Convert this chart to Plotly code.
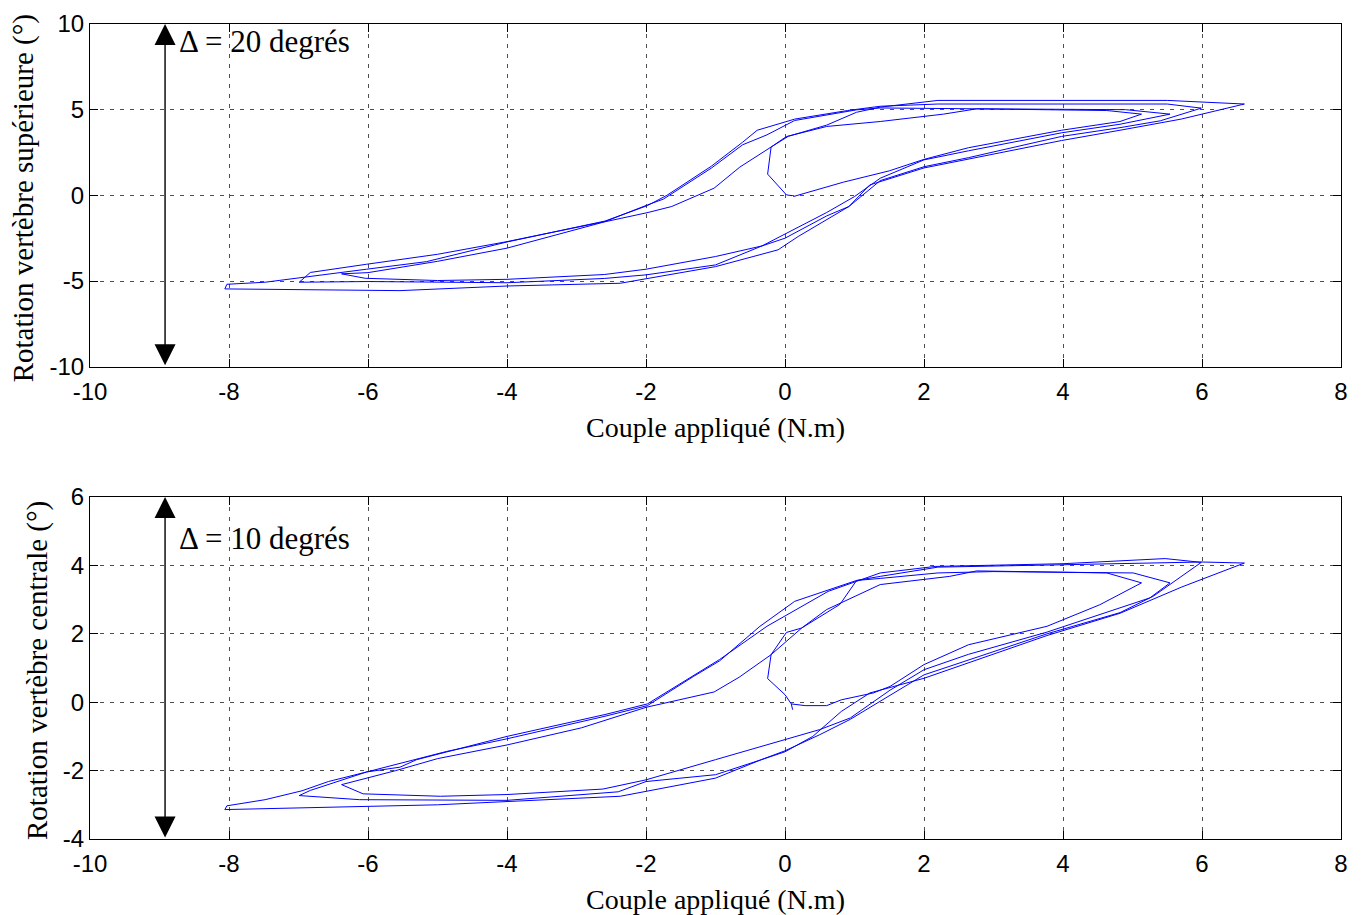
import plotly.graph_objects as go

# ---------------- data ----------------
top_couple = [
    0.12, 0.36, 0.60, 0.84, 1.50, 2.00, 2.64, 3.98, 4.82, 5.13,
    4.63, 2.76, 2.28, 1.37, 0.60, 0.02, -0.20, -0.65, -1.02, -1.63, -1.97, -2.60, -4.00, -5.00, -6.00, -6.38,
    -6.04, -5.00, -4.00, -2.60, -2.00, -1.00, -0.33, 0.19, 0.60, 1.00, 1.37, 2.00, 2.64, 3.98, 4.82, 5.54,
    4.90, 2.76, 1.37, 1.03, 0.14, -0.26, -0.61, -1.06, -1.75, -1.98, -2.59, -4.00, -5.00, -6.02, -6.83, -6.99,
    -6.00, -4.00, -2.60, -2.00, -1.00, -0.33, 0.00, 0.60, 0.92, 1.37, 2.00, 2.64, 3.98, 4.82, 5.40, 5.99,
    5.50, 2.20, 1.37, 0.90, 0.14, -0.40, -0.61, -1.06, -1.70, -1.98, -2.59, -4.00, -5.16, -6.02, -6.83, -7.48, -8.03, -8.06,
    -5.54, -4.00, -2.37, -1.00, -0.10, 0.19, 0.92, 1.22, 2.00, 3.98, 4.82, 5.70, 6.61,
    5.50, 2.20, 1.37, 1.03, 0.60, 0.05, -0.20, -0.25, 0.02, 0.10,
]
top_rotation = [
    -0.07, 0.22, 0.51, 0.77, 1.43, 2.10, 2.78, 3.80, 4.31, 4.74,
    4.95, 5.05, 4.74, 4.31, 4.02, 3.43, 2.82, 1.65, 0.42, -0.65, -1.00, -1.55, -3.08, -3.85, -4.51, -4.58,
    -4.84, -4.97, -4.90, -4.62, -4.31, -3.57, -2.95, -1.86, -1.00, -0.07, 1.00, 2.07, 2.60, 3.65, 4.15, 4.74,
    5.00, 5.05, 5.10, 4.99, 4.37, 3.53, 2.95, 1.59, -0.22, -0.56, -1.53, -2.70, -3.44, -4.02, -4.50, -5.07,
    -5.03, -5.10, -4.85, -4.64, -4.06, -2.95, -2.50, -1.20, -0.65, 0.86, 1.67, 2.20, 3.44, 3.95, 4.35, 5.09,
    5.33, 5.33, 5.20, 4.95, 4.45, 3.80, 3.10, 1.70, 0.00, -0.60, -1.50, -2.72, -3.87, -4.31, -4.74, -5.07, -5.19, -5.46,
    -5.56, -5.29, -5.13, -4.16, -3.18, -2.40, -0.65, 0.61, 1.60, 3.20, 3.80, 4.45, 5.33,
    5.54, 5.54, 5.15, 4.85, 4.10, 3.45, 2.82, 1.24, 0.03, -0.02,
]

bottom_couple = [
    0.09, 0.29, 0.60, 0.81, 1.27, 1.51, 2.00, 2.64, 3.77, 4.53, 5.13,
    4.63, 2.76, 2.37, 1.37, 0.60, 0.24, 0.02, -0.20, -0.66, -1.02, -1.63, -2.00, -2.93, -4.00, -5.00, -5.60, -6.38,
    -6.07, -4.96, -4.00, -2.62, -2.00, -1.00, 0.00, 0.50, 0.94, 1.51, 2.00, 2.64, 3.77, 4.82, 5.25, 5.54,
    5.01, 3.00, 2.20, 1.37, 1.03, 0.14, -0.36, -0.94, -1.32, -1.98, -2.59, -4.00, -4.87, -6.02, -6.83, -6.99,
    -6.12, -4.00, -2.40, -2.00, -1.00, -0.34, 0.00, 0.50, 0.94, 1.51, 2.00, 3.77, 4.82, 5.30, 5.99,
    5.47, 4.00, 2.16, 1.37, 0.62, -0.26, -0.94, -1.98, -2.59, -4.00, -5.30, -5.54, -6.02, -6.57, -6.95, -7.48, -8.03, -8.06,
    -5.00, -2.37, -1.00, -0.34, 0.00, 0.40, 0.81, 1.22, 2.00, 3.77, 4.82, 5.71, 6.61,
    6.00, 4.00, 2.20, 1.37, 1.03, 0.79, 0.24, -0.20, -0.25, 0.00, 0.09, 0.11,
]
bottom_rotation = [
    -0.05, -0.10, -0.10, 0.07, 0.27, 0.46, 1.10, 1.68, 2.22, 2.85, 3.49,
    3.78, 3.84, 3.68, 3.44, 2.71, 2.17, 2.04, 1.39, 0.73, 0.30, 0.02, -0.15, -0.75, -1.25, -1.65, -2.00, -2.41,
    -2.68, -2.75, -2.70, -2.54, -2.27, -1.68, -1.08, -0.80, -0.46, 0.35, 0.95, 1.40, 2.05, 2.75, 3.05, 3.49,
    3.78, 3.82, 3.78, 3.62, 3.56, 2.95, 2.22, 1.21, 0.75, -0.10, -0.41, -1.07, -1.44, -2.04, -2.58, -2.73,
    -2.85, -2.87, -2.62, -2.32, -2.12, -1.68, -1.42, -0.95, -0.50, 0.20, 0.80, 2.00, 2.62, 3.10, 4.09,
    4.20, 4.05, 3.97, 3.78, 3.24, 2.22, 1.25, -0.05, -0.36, -1.00, -1.68, -1.90, -2.04, -2.32, -2.59, -2.85, -3.03, -3.14,
    -3.00, -2.75, -2.22, -1.68, -1.45, -1.00, -0.27, 0.27, 0.70, 1.95, 2.60, 3.37, 4.07,
    4.10, 4.02, 3.95, 3.68, 3.56, 2.86, 2.17, 1.39, 0.69, 0.22, -0.05, -0.22,
]

x_ticks = [-10, -8, -6, -4, -2, 0, 2, 4, 6, 8]
x_ticklabels = ["-10", "-8", "-6", "-4", "-2", "0", "2", "4", "6", "8"]
top_y_ticks = [-10, -5, 0, 5, 10]
top_y_ticklabels = ["-10", "-5", "0", "5", "10"]
bottom_y_ticks = [-4, -2, 0, 2, 4, 6]
bottom_y_ticklabels = ["-4", "-2", "0", "2", "4", "6"]

x_label = "Couple appliqué (N.m)"
top_y_label = "Rotation vertèbre supérieure (°)"
bottom_y_label = "Rotation vertèbre centrale (°)"
top_note = "Δ = 20 degrés"
bottom_note = "Δ = 10 degrés"
arrow_x = -8.92
top_range = [-10, 10]
bottom_range = [-4, 6]
x_range = [-10, 8]
bottom_note_y = 4.78

# ---------------- figure ----------------
SANS = "Liberation Sans, Arial, sans-serif"
SERIF = "Liberation Serif, Times New Roman, serif"
LINE = dict(color="#0000ff", width=1)

fig = go.Figure()
fig.add_trace(go.Scatter(x=top_couple, y=top_rotation, mode="lines", line=LINE,
                         xaxis="x", yaxis="y", showlegend=False, hoverinfo="skip"))
fig.add_trace(go.Scatter(x=bottom_couple, y=bottom_rotation, mode="lines", line=LINE,
                         xaxis="x2", yaxis="y2", showlegend=False, hoverinfo="skip"))

axis_common = dict(
    showline=True, linecolor="black", linewidth=1, mirror="ticks",
    ticks="inside", ticklen=8, tickcolor="black", tickwidth=1,
    showgrid=True, gridcolor="rgba(60,60,60,0.9)", gridwidth=1, griddash="4px,6px",
    zeroline=False, tickfont=dict(family=SANS, size=24, color="black"),
)
title_font = dict(family=SERIF, size=28, color="black")
ytitle_font = dict(family=SERIF, size=29, color="black")

TOP_DOMAIN = [0.5795, 1]
BOTTOM_DOMAIN = [0, 0.4196]

fig.update_layout(
    width=1354, height=907,
    paper_bgcolor="white", plot_bgcolor="white",
    margin=dict(l=82, r=21, t=16, b=76, autoexpand=False),
    xaxis=dict(domain=[0, 1], anchor="y", range=x_range, tickvals=x_ticks, ticktext=x_ticklabels,
               ticklabelstandoff=3,
               title=dict(text=x_label, font=title_font, standoff=13),
               **axis_common),
    yaxis=dict(domain=TOP_DOMAIN, anchor="x", range=top_range, tickvals=top_y_ticks,
               ticktext=top_y_ticklabels, **axis_common),
    xaxis2=dict(domain=[0, 1], anchor="y2", range=x_range, tickvals=x_ticks, ticktext=x_ticklabels,
                ticklabelstandoff=3,
                title=dict(text=x_label, font=title_font, standoff=13),
                **axis_common),
    yaxis2=dict(domain=BOTTOM_DOMAIN, anchor="x2", range=bottom_range, tickvals=bottom_y_ticks,
                ticktext=bottom_y_ticklabels, **axis_common),
)

# y-axis titles (rotated text)
fig.add_annotation(x=0, y=sum(TOP_DOMAIN) / 2, xref="paper", yref="paper", text=top_y_label,
                   textangle=-90, showarrow=False, xanchor="center", yanchor="middle",
                   xshift=-67, yshift=-3, font=ytitle_font)
fig.add_annotation(x=0, y=sum(BOTTOM_DOMAIN) / 2, xref="paper", yref="paper", text=bottom_y_label,
                   textangle=-90, showarrow=False, xanchor="center", yanchor="middle",
                   xshift=-53, yshift=-3, font=ytitle_font)

# double-headed arrows
for xr, yr, rng in [("x", "y", top_range), ("x2", "y2", bottom_range)]:
    fig.add_annotation(x=arrow_x, y=rng[1], ax=arrow_x, ay=rng[0], xref=xr, yref=yr,
                       axref=xr, ayref=yr, text="", showarrow=True,
                       arrowhead=2, startarrowhead=2, arrowside="end+start",
                       arrowsize=3.0, startarrowsize=3.0, arrowwidth=1.4, arrowcolor="black")

fig.add_annotation(x=arrow_x, y=top_range[1], xref="x", yref="y", text=top_note, showarrow=False,
                   xanchor="left", yanchor="top", xshift=12, yshift=2,
                   font=dict(family=SERIF, size=31, color="black"))
fig.add_annotation(x=arrow_x, y=bottom_note_y, xref="x2", yref="y2", text=bottom_note, showarrow=False,
                   xanchor="left", yanchor="middle", xshift=12,
                   font=dict(family=SERIF, size=31, color="black"))

fig.write_html("out.html")
